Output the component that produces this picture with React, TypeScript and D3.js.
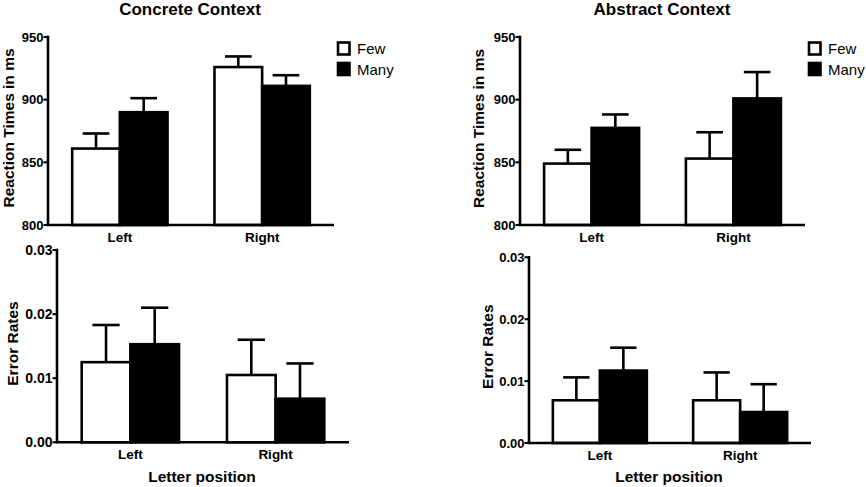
import * as d3 from "d3";

// categories
const positions = ["Left", "Right"];
const groups = ["Few", "Many"];

// reaction times (ms) and their error bars
const concreteRTFew = [861, 926];
const concreteRTMany = [890, 911];
const concreteRTFewErr = [12, 8.5];
const concreteRTManyErr = [11.2, 8.5];

const abstractRTFew = [849, 853];
const abstractRTMany = [877.5, 901];
const abstractRTFewErr = [11, 21];
const abstractRTManyErr = [10.7, 21];

// error rates and their error bars
const concreteERFew = [0.0125, 0.0105];
const concreteERMany = [0.0153, 0.0068];
const concreteERFewErr = [0.0058, 0.0055];
const concreteERManyErr = [0.0057, 0.0055];

const abstractERFew = [0.0069, 0.0069];
const abstractERMany = [0.0117, 0.005];
const abstractERFewErr = [0.0037, 0.0045];
const abstractERManyErr = [0.0037, 0.0045];

const rtTicks = [800, 850, 900, 950];
const erTicks = [0, 0.01, 0.02, 0.03];

const FONT = "'Liberation Sans', Arial, Helvetica, sans-serif";
const SW = 2.6;

interface PanelProps {
  x0: number;
  x1: number;
  yTop: number;
  yBot: number;
  domain: [number, number];
  ticks: number[];
  tickFmt: (v: number) => string;
  tickSize: number;
  few: number[];
  many: number[];
  fewErr: number[];
  manyErr: number[];
  yLabel: string;
  yLabelX: number;
  yLabelY: number;
  title?: string;
  titleX?: number;
  legend?: boolean;
  xTitle?: string;
  xTitleX?: number;
}

function Panel(p: PanelProps) {
  const x = d3
    .scaleBand<string>()
    .domain(positions)
    .range([p.x0, p.x1])
    .paddingInner(0.33)
    .paddingOuter(0.17);
  const sub = d3
    .scaleBand<string>()
    .domain(groups)
    .range([0, x.bandwidth()]);
  const y = d3.scaleLinear().domain(p.domain).range([p.yBot, p.yTop]);

  const series = [
    { key: "Few", vals: p.few, errs: p.fewErr, fill: "#fff" },
    { key: "Many", vals: p.many, errs: p.manyErr, fill: "#000" },
  ];

  return (
    <g>
      {p.title && (
        <text
          x={p.titleX}
          y={15}
          textAnchor="middle"
          fontSize={17}
          fontWeight="bold"
        >
          {p.title}
        </text>
      )}
      {series.map((s) =>
        positions.map((pos, i) => {
          const bx = (x(pos) ?? 0) + (sub(s.key) ?? 0);
          const bw = sub.bandwidth();
          const cx = bx + bw / 2;
          const top = y(s.vals[i]);
          const errTop = y(s.vals[i] + s.errs[i]);
          const cap = bw * 0.28;
          return (
            <g key={s.key + pos}>
              <line
                x1={cx}
                x2={cx}
                y1={top}
                y2={errTop}
                stroke="#000"
                strokeWidth={SW}
              />
              <line
                x1={cx - cap}
                x2={cx + cap}
                y1={errTop}
                y2={errTop}
                stroke="#000"
                strokeWidth={SW}
              />
              <rect
                x={bx}
                y={top}
                width={bw}
                height={p.yBot - top}
                fill={s.fill}
                stroke="#000"
                strokeWidth={SW}
              />
            </g>
          );
        })
      )}
      {/* axes */}
      <line
        x1={p.x0}
        x2={p.x0}
        y1={p.yTop - SW / 2}
        y2={p.yBot}
        stroke="#000"
        strokeWidth={SW}
      />
      <line
        x1={p.x0 - SW / 2}
        x2={p.x1}
        y1={p.yBot}
        y2={p.yBot}
        stroke="#000"
        strokeWidth={SW}
      />
      {p.ticks.map((t) => (
        <g key={t}>
          <line
            x1={p.x0 - 4.5}
            x2={p.x0}
            y1={y(t)}
            y2={y(t)}
            stroke="#000"
            strokeWidth={SW * 0.8}
          />
          <text
            x={p.x0 - 4.5}
            y={y(t)}
            dy="0.36em"
            textAnchor="end"
            fontSize={p.tickSize}
            fontWeight="bold"
          >
            {p.tickFmt(t)}
          </text>
        </g>
      ))}
      {positions.map((pos) => (
        <text
          key={pos}
          x={(x(pos) ?? 0) + x.bandwidth() / 2}
          y={p.yBot + 17}
          textAnchor="middle"
          fontSize={13.5}
          fontWeight="bold"
        >
          {pos}
        </text>
      ))}
      <text
        transform={`translate(${p.yLabelX},${p.yLabelY}) rotate(-90)`}
        textAnchor="middle"
        fontSize={15.5}
        fontWeight="bold"
      >
        {p.yLabel}
      </text>
      {p.xTitle && (
        <text
          x={p.xTitleX}
          y={482}
          textAnchor="middle"
          fontSize={15.5}
          fontWeight="bold"
        >
          {p.xTitle}
        </text>
      )}
      {p.legend &&
        series.map((s, i) => (
          <g key={s.key} transform={`translate(${p.x1 + 4},${42.5 + i * 20.5})`}>
            <rect
              x={0}
              y={0}
              width={11.5}
              height={12}
              fill={s.fill}
              stroke="#000"
              strokeWidth={SW}
            />
            <text x={19} y={11.5} fontSize={15}>
              {s.key}
            </text>
          </g>
        ))}
    </g>
  );
}

export default function App() {
  const rtFmt = d3.format("d");
  const erFmt = d3.format(".2f");
  return (
    <svg
      width={866}
      height={487}
      style={{ position: "absolute", left: 0, top: 0, background: "#fff" }}
      fontFamily={FONT}
    >
      <Panel
        x0={48}
        x1={334}
        yTop={37}
        yBot={225}
        domain={[800, 950]}
        ticks={rtTicks}
        tickFmt={rtFmt}
        tickSize={13}
        few={concreteRTFew}
        many={concreteRTMany}
        fewErr={concreteRTFewErr}
        manyErr={concreteRTManyErr}
        yLabel="Reaction Times in ms"
        yLabelX={13.5}
        yLabelY={128}
        title="Concrete Context"
        titleX={190}
        legend
      />
      <Panel
        x0={57}
        x1={349}
        yTop={250}
        yBot={442.3}
        domain={[0, 0.03]}
        ticks={erTicks}
        tickFmt={erFmt}
        tickSize={14}
        few={concreteERFew}
        many={concreteERMany}
        fewErr={concreteERFewErr}
        manyErr={concreteERManyErr}
        yLabel="Error Rates"
        yLabelX={18.3}
        yLabelY={343.5}
        xTitle="Letter position"
        xTitleX={202}
      />
      <Panel
        x0={520}
        x1={805}
        yTop={37}
        yBot={225}
        domain={[800, 950]}
        ticks={rtTicks}
        tickFmt={rtFmt}
        tickSize={13}
        few={abstractRTFew}
        many={abstractRTMany}
        fewErr={abstractRTFewErr}
        manyErr={abstractRTManyErr}
        yLabel="Reaction Times in ms"
        yLabelX={484}
        yLabelY={128.5}
        title="Abstract Context"
        titleX={662}
        legend
      />
      <Panel
        x0={529}
        x1={811}
        yTop={257.3}
        yBot={443}
        domain={[0, 0.03]}
        ticks={erTicks}
        tickFmt={erFmt}
        tickSize={13}
        few={abstractERFew}
        many={abstractERMany}
        fewErr={abstractERFewErr}
        manyErr={abstractERManyErr}
        yLabel="Error Rates"
        yLabelX={492.7}
        yLabelY={346.7}
        xTitle="Letter position"
        xTitleX={669}
      />
    </svg>
  );
}
